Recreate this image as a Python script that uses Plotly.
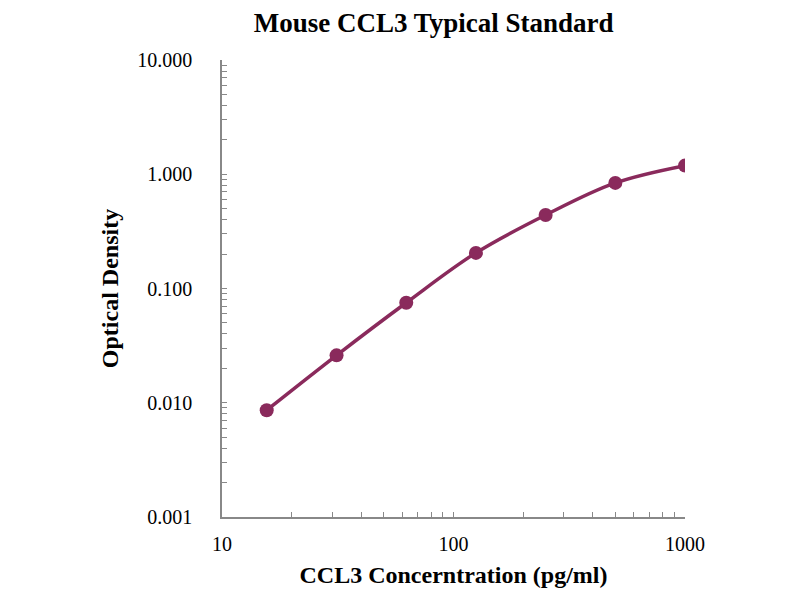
import plotly.graph_objects as go

# standard curve data
conc = [15.6, 31.25, 62.5, 125, 250, 500, 1000]
od = [0.0086, 0.026, 0.075, 0.205, 0.44, 0.84, 1.19]

x_ticks = [10, 100, 1000]
y_ticks = [0.001, 0.01, 0.1, 1, 10]

color = "#8a2a5c"
serif = "Liberation Serif, Times New Roman, serif"

line = go.Scatter(x=conc, y=od, mode="lines+markers",
                  line=dict(color=color, width=3.5, shape="spline"),
                  marker=dict(color=color, size=14))
fig = go.Figure(line)

# page body has 8px margin, so shift margins by 8
fig.update_layout(
    width=800, height=600,
    paper_bgcolor="white", plot_bgcolor="white",
    margin=dict(l=214, r=123, t=52, b=91),
    showlegend=False,
    font=dict(family=serif, size=20, color="black"),
    title=dict(text="<b>Mouse CCL3 Typical Standard</b>", x=0.532, xref="container",
               xanchor="center", y=0.992, yref="container", yanchor="top",
               pad=dict(t=0), font=dict(size=27)),
)
fig.update_xaxes(
    type="log", range=[1, 3], tickvals=x_ticks, ticktext=[str(v) for v in x_ticks],
    showline=True, linecolor="#888", linewidth=1.5, showgrid=False, zeroline=False,
    ticks="inside", ticklen=5, tickcolor="#888", ticklabelstandoff=8,
    minor=dict(ticks="inside", ticklen=5, tickcolor="#888", dtick="D1", showgrid=False),
    title=dict(text="<b>CCL3 Concerntration (pg/ml)</b>", font=dict(size=24), standoff=12),
)
fig.update_yaxes(
    type="log", range=[-3, 1], tickvals=y_ticks, ticktext=["%.3f" % v for v in y_ticks],
    showline=True, linecolor="#888", linewidth=1.5, showgrid=False, zeroline=False,
    ticks="inside", ticklen=5, tickcolor="#888", ticklabelstandoff=24,
    minor=dict(ticks="inside", ticklen=5, tickcolor="#888", dtick="D1", showgrid=False),
    title=dict(text="<b>Optical Density</b>", font=dict(size=24), standoff=12),
)

fig.write_html("out.html")
